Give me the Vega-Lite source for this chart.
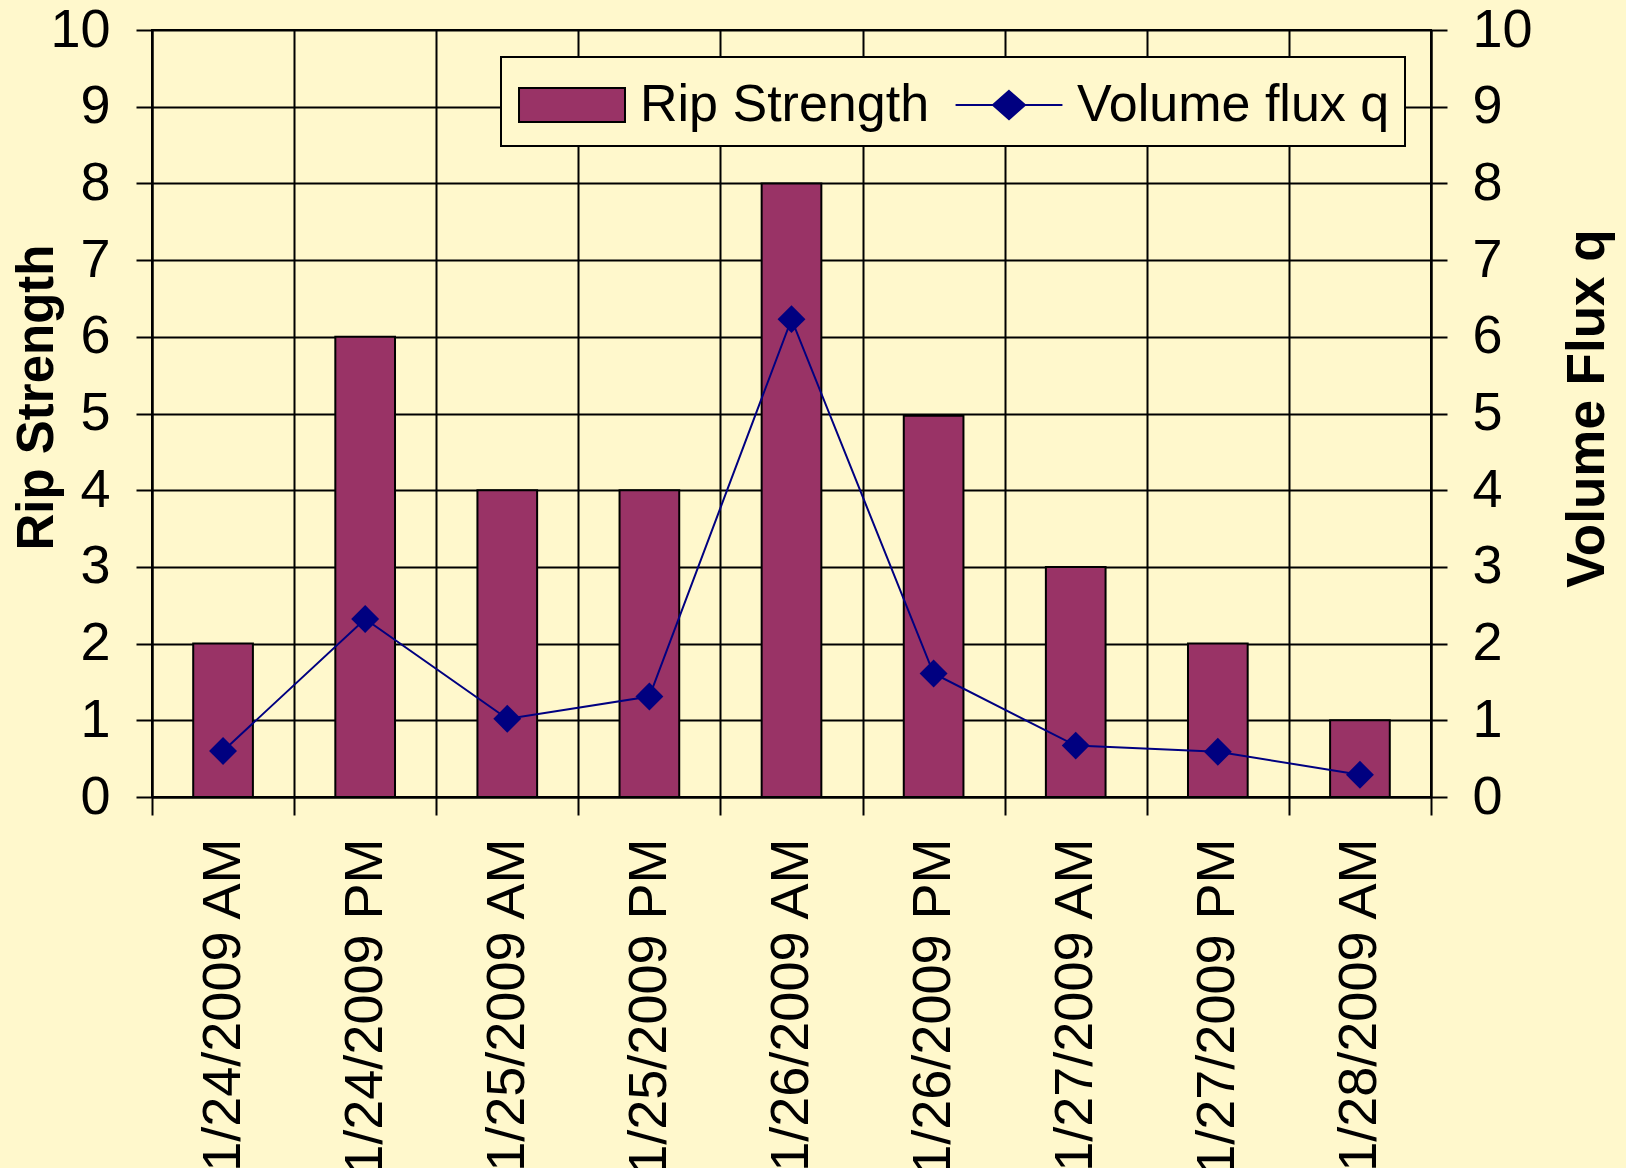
{
  "$schema": "https://vega.github.io/schema/vega-lite/v6.json",
  "width": 1279,
  "height": 767,
  "autosize": "none",
  "padding": {"left": 152, "top": 30, "right": 195, "bottom": 371},
  "background": "#FFF8CC",
  "config": {
    "font": "Liberation Sans",
    "view": {"stroke": "black", "strokeWidth": 2},
    "legend": {
      "orient": "none",
      "legendX": 349,
      "legendY": 27,
      "direction": "horizontal",
      "fillColor": "#FFF8CC",
      "strokeColor": "black",
      "strokeWidth": 2,
      "padding": 15,
      "symbolSize": 4096,
      "symbolOffset": 23,
      "symbolStrokeWidth": 2,
      "symbolOpacity": 1,
      "labelFontSize": 52,
      "labelColor": "black",
      "labelOffset": 35,
      "columnPadding": 21,
      "labelLimit": 0
    }
  },
  "data": {
    "values": [
      {"date": "1/24/2009 AM", "rip": 2, "flux": 0.6},
      {"date": "1/24/2009 PM", "rip": 6, "flux": 2.32},
      {"date": "1/25/2009 AM", "rip": 4, "flux": 1.02},
      {"date": "1/25/2009 PM", "rip": 4, "flux": 1.31},
      {"date": "1/26/2009 AM", "rip": 8, "flux": 6.23},
      {"date": "1/26/2009 PM", "rip": 4.97, "flux": 1.61},
      {"date": "1/27/2009 AM", "rip": 3, "flux": 0.67},
      {"date": "1/27/2009 PM", "rip": 2, "flux": 0.59},
      {"date": "1/28/2009 AM", "rip": 1, "flux": 0.29}
    ]
  },
  "encoding": {
    "x": {
      "field": "date",
      "type": "ordinal",
      "sort": null,
      "title": null,
      "scale": {"paddingInner": 0, "paddingOuter": 0},
      "axis": {
        "tickBand": "extent",
        "grid": true,
        "gridColor": "black",
        "gridWidth": 2,
        "gridOpacity": 1,
        "domainColor": "black",
        "domainWidth": 2,
        "tickColor": "black",
        "tickWidth": 2,
        "tickSize": 18,
        "labelAngle": -90,
        "labelFontSize": 54,
        "labelColor": "black",
        "labelPadding": 23,
        "labelLimit": 0,
        "labelOverlap": false
      }
    }
  },
  "layer": [
    {
      "mark": {"type": "bar", "stroke": "black", "strokeWidth": 2, "width": {"band": 0.42}},
      "encoding": {
        "y": {
          "field": "rip",
          "type": "quantitative",
          "scale": {"domain": [0, 10], "nice": false},
          "axis": {
            "orient": "left",
            "values": [0, 1, 2, 3, 4, 5, 6, 7, 8, 9, 10],
            "grid": true,
            "gridColor": "black",
            "gridWidth": 2,
            "gridOpacity": 1,
            "domainColor": "black",
            "domainWidth": 2,
            "tickColor": "black",
            "tickWidth": 2,
            "tickSize": 16,
            "labelFontSize": 54,
            "labelColor": "black",
            "labelPadding": 26,
            "title": "Rip Strength",
            "titleFontSize": 51,
            "titleFontWeight": "bold",
            "titleColor": "black",
            "titleAngle": -90,
            "titleAlign": "center",
            "titleBaseline": "alphabetic",
            "titleX": -100,
            "titleY": 367
          }
        },
        "fill": {
          "datum": "Rip Strength",
          "title": null,
          "scale": {"domain": ["Rip Strength", "Volume flux q"], "range": ["#993366", "#000080"]}
        }
      }
    },
    {
      "mark": {"type": "line", "color": "#000080", "strokeWidth": 2},
      "encoding": {
        "y": {
          "field": "flux",
          "type": "quantitative",
          "scale": {"domain": [0, 10], "nice": false},
          "axis": {
            "orient": "right",
            "values": [0, 1, 2, 3, 4, 5, 6, 7, 8, 9, 10],
            "grid": false,
            "domainColor": "black",
            "domainWidth": 2,
            "tickColor": "black",
            "tickWidth": 2,
            "tickSize": 16,
            "labelFontSize": 54,
            "labelColor": "black",
            "labelPadding": 25,
            "title": "Volume Flux q",
            "titleFontSize": 53,
            "titleFontWeight": "bold",
            "titleColor": "black",
            "titleAngle": -90,
            "titleAlign": "center",
            "titleBaseline": "alphabetic",
            "titleX": 172,
            "titleY": 378
          }
        }
      }
    },
    {
      "mark": {"type": "point", "shape": "diamond", "size": 780, "filled": true, "color": "#000080", "opacity": 1},
      "encoding": {
        "y": {"field": "flux", "type": "quantitative", "scale": {"domain": [0, 10], "nice": false}, "axis": null}
      }
    },
    {
      "data": {"values": []},
      "mark": {"type": "point", "filled": true, "opacity": 1},
      "encoding": {
        "x": {"field": "date", "type": "ordinal", "sort": null},
        "fill": {
          "datum": "Rip Strength",
          "title": null,
          "scale": {"domain": ["Rip Strength", "Volume flux q"], "range": ["#993366", "#000080"]}
        },
        "stroke": {
          "datum": "Rip Strength",
          "title": null,
          "scale": {"domain": ["Rip Strength", "Volume flux q"], "range": ["black", "#000080"]}
        },
        "shape": {
          "datum": "Rip Strength",
          "title": null,
          "scale": {"domain": ["Rip Strength", "Volume flux q"], "range": ["M-1.656,-0.53L1.656,-0.53L1.656,0.53L-1.656,0.53Z", "M-1.67,0L1.67,0M0,-0.44L0.5,0L0,0.44L-0.5,0Z"]}
        }
      }
    }
  ],
  "resolve": {"scale": {"y": "independent"}}
}
